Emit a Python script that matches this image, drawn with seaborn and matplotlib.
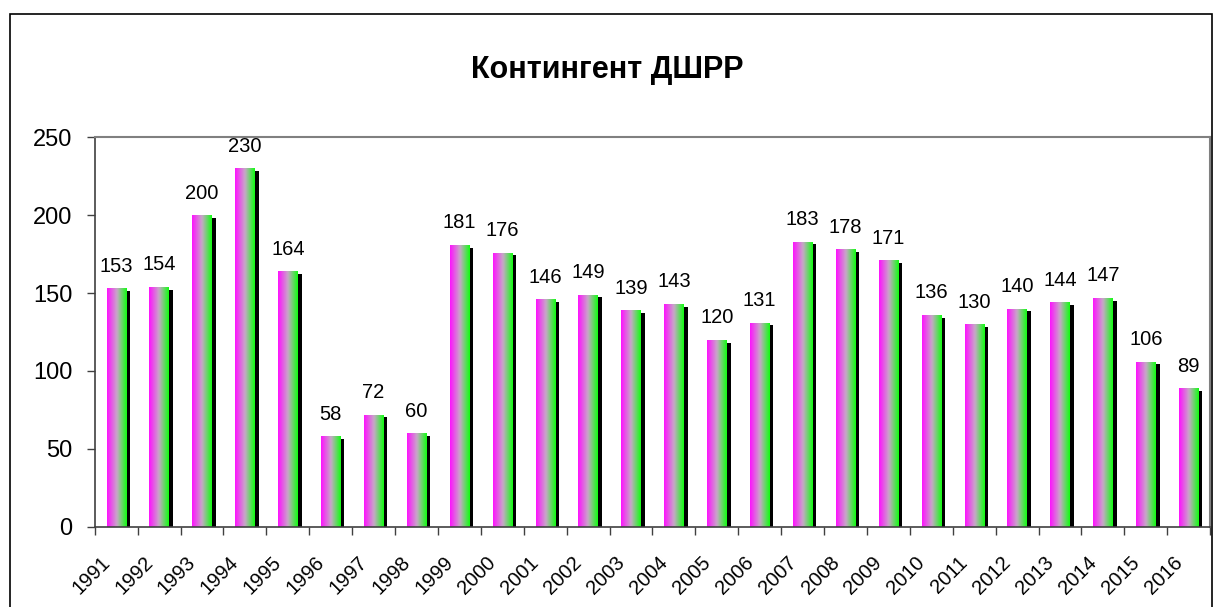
import numpy as np
import pandas as pd
import seaborn as sns
import matplotlib.pyplot as plt
import matplotlib.transforms as mtransforms
from matplotlib.colors import LinearSegmentedColormap
from matplotlib.patches import Rectangle

years = [str(y) for y in range(1991, 2017)]
counts = [153, 154, 200, 230, 164, 58, 72, 60, 181, 176, 146, 149, 139, 143,
          120, 131, 183, 178, 171, 136, 130, 140, 144, 147, 106, 89]

df = pd.DataFrame({"Year": years, "Count": counts})

sns.set_style("white")
plt.rcParams['font.family'] = ['Liberation Sans', 'DejaVu Sans']
plt.rcParams['text.color'] = 'black'
plt.rcParams['xtick.color'] = 'black'
plt.rcParams['ytick.color'] = 'black'

fig = plt.figure(figsize=(12.15, 6.07), dpi=100)
ax = fig.add_axes([0.078, 0.132, 0.918, 0.642])

sns.barplot(data=df, x="Year", y="Count", color="#ff00ff", width=0.45, ax=ax)

cmap = LinearSegmentedColormap.from_list("mg", ["#ff10ff", "#c8a8c8", "#10ff10"])
grad = np.linspace(0, 1, 256).reshape(1, -1)

for p in ax.patches:
    x, w, h = p.get_x(), p.get_width(), p.get_height()
    # black shadow to the right and slightly lower
    ax.add_patch(Rectangle((x + 0.095, 0), w, h - 1.8, facecolor="black",
                           edgecolor="none", zorder=1))
    p.set_facecolor("none")
    p.set_edgecolor("none")
    p.set_zorder(2)
    im = ax.imshow(grad, cmap=cmap, aspect="auto", extent=[x, x + w, 0, h],
                   zorder=2, interpolation="bicubic")
    im.set_clip_path(p)

ax.bar_label(ax.containers[0], labels=[str(c) for c in counts], padding=9,
             fontsize=14.5)

ax.set_xlim(-0.5, len(years) - 0.5)
ax.set_ylim(0, 250)
ax.set_yticks(range(0, 251, 50))
ax.tick_params(axis="y", labelsize=17, length=6, width=1, color="#404040",
               left=True, pad=10)

# year labels: rotated, slightly left of the bar centre (Excel style)
ax.set_xticks(range(len(years)))
ax.set_xticklabels([])
ax.tick_params(axis="x", length=0)
lbl_tr = ax.get_xaxis_transform() + mtransforms.ScaledTranslation(
    -16 / 100, -26 / 100, fig.dpi_scale_trans)
for i, y in enumerate(years):
    ax.text(i, 0, y, transform=lbl_tr, rotation=45, ha="right", va="top",
            rotation_mode="anchor", fontsize=14.5)

ax.set_xticks(np.arange(-0.5, len(years), 1), minor=True)
ax.tick_params(axis="x", which="minor", length=6, width=1, color="#404040",
               bottom=True)
ax.set_xlabel("")
ax.set_ylabel("")

for s in ["left", "bottom"]:
    ax.spines[s].set_color("#404040")
    ax.spines[s].set_linewidth(1.2)
for s in ["top", "right"]:
    ax.spines[s].set_color("#808080")
    ax.spines[s].set_linewidth(1.5)

fig.text(0.5, 0.885, "Контингент ДШРР", ha="center", va="center",
         fontsize=22, fontweight="bold")

fig.patches.append(Rectangle((10 / 1215, -0.02), 1202 / 1215, 0.997,
                             transform=fig.transFigure, fill=False,
                             edgecolor="black", linewidth=1.2))

fig.savefig("out.png", dpi=100)
